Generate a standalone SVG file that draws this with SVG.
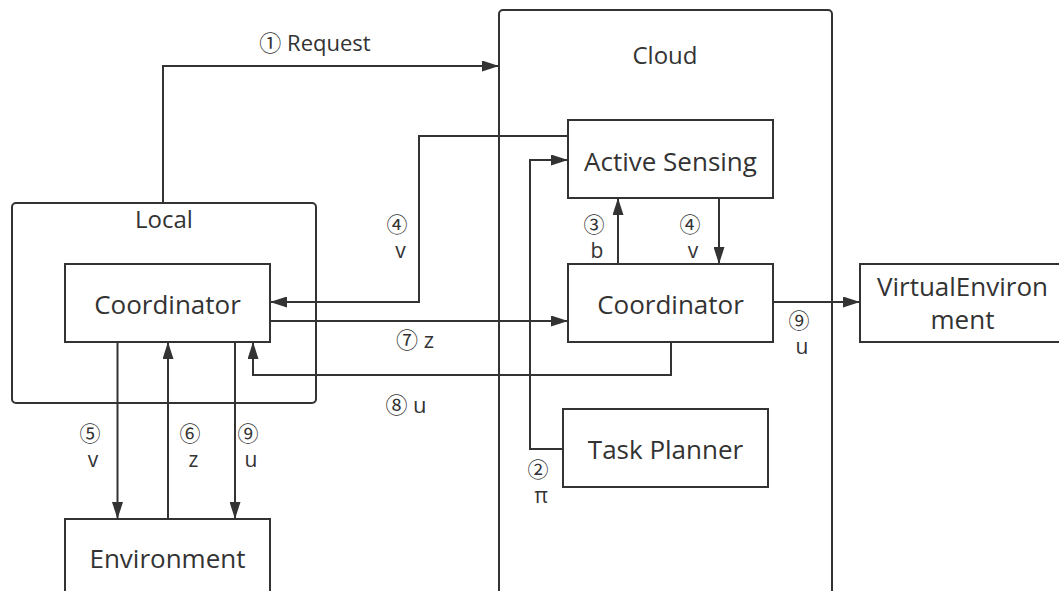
<svg xmlns="http://www.w3.org/2000/svg" width="1059" height="591" viewBox="0 0 1059 591">
<style>
.box{fill:#fff;stroke:#333;stroke-width:2}
.cont{fill:none;stroke:#333;stroke-width:2}
.edge{fill:none;stroke:#333;stroke-width:2}
.nl{font-family:"Open Sans","Noto Sans",sans-serif;font-size:26px;fill:#333;text-anchor:middle}
.cl{font-family:"Open Sans","Noto Sans",sans-serif;font-size:24px;fill:#333;text-anchor:middle}
.el{font-family:"Open Sans","Noto Sans CJK SC",sans-serif;font-size:21px;fill:#333;text-anchor:middle}
.el1{font-family:"Open Sans","Noto Sans CJK SC",sans-serif;font-size:22px;fill:#333;text-anchor:middle}
</style>
<defs>
<marker id="ah" markerUnits="userSpaceOnUse" markerWidth="17" markerHeight="11" refX="17" refY="5.5" orient="auto">
<path d="M0,0 L17,5.5 L0,11 z" fill="#333"/>
</marker>
</defs>
<rect width="1059" height="591" fill="#fff"/>
<g id="cloud">
<rect class="cont" x="499" y="10" width="333" height="620" rx="4"/>
<text class="cl" x="665" y="64">Cloud</text>
</g>
<g id="local">
<rect class="cont" x="12" y="203" width="304" height="200" rx="4"/>
<text class="cl" x="164" y="228">Local</text>
</g>
<g id="active-sensing">
<rect class="box" x="568" y="120" width="205" height="78"/>
<text class="nl" x="670.5" y="171">Active Sensing</text>
</g>
<g id="cloud-coordinator">
<rect class="box" x="568" y="264" width="205" height="78"/>
<text class="nl" x="670.5" y="314">Coordinator</text>
</g>
<g id="task-planner">
<rect class="box" x="563" y="409" width="205" height="78"/>
<text class="nl" x="665.5" y="459">Task Planner</text>
</g>
<g id="virtual-environment">
<rect class="box" x="860" y="264" width="205" height="78"/>
<text class="nl" x="962.5" y="296">VirtualEnviron</text>
<text class="nl" x="962.5" y="329">ment</text>
</g>
<g id="local-coordinator">
<rect class="box" x="65" y="264" width="205" height="78"/>
<text class="nl" x="167.5" y="314">Coordinator</text>
</g>
<g id="environment">
<rect class="box" x="65" y="519" width="205" height="90"/>
<text class="nl" x="167.5" y="568">Environment</text>
</g>
<g id="connectors">
<path class="edge" d="M163,203 V66 H499" marker-end="url(#ah)"/>
<path class="edge" d="M563,449 H530 V160 H568" marker-end="url(#ah)"/>
<path class="edge" d="M618,264 V198" marker-end="url(#ah)"/>
<path class="edge" d="M719,198 V264" marker-end="url(#ah)"/>
<path class="edge" d="M568,136 H419 V302 H270" marker-end="url(#ah)"/>
<path class="edge" d="M270,321 H568" marker-end="url(#ah)"/>
<path class="edge" d="M671,342 V375 H253 V342" marker-end="url(#ah)"/>
<path class="edge" d="M773,302 H860" marker-end="url(#ah)"/>
<path class="edge" d="M117.5,342 V519" marker-end="url(#ah)"/>
<path class="edge" d="M168,519 V342" marker-end="url(#ah)"/>
<path class="edge" d="M235,342 V519" marker-end="url(#ah)"/>
<text class="el1" x="315" y="51">① Request</text>
<text class="el" x="397" y="232">④</text>
<text class="el" x="400.5" y="258">v</text>
<text class="el" x="594" y="232">③</text>
<text class="el" x="597" y="258">b</text>
<text class="el" x="690" y="232">④</text>
<text class="el" x="693" y="258">v</text>
<text class="el1" x="415" y="348">⑦ z</text>
<text class="el1" x="406" y="413">⑧ u</text>
<text class="el" x="799" y="328">⑨</text>
<text class="el" x="802" y="354">u</text>
<text class="el" x="538" y="477">②</text>
<text class="el" x="541" y="503">π</text>
<text class="el" x="90" y="441">⑤</text>
<text class="el" x="93" y="467">v</text>
<text class="el" x="190" y="441">⑥</text>
<text class="el" x="193.5" y="467">z</text>
<text class="el" x="248" y="441">⑨</text>
<text class="el" x="251" y="467">u</text>
</g>
</svg>
